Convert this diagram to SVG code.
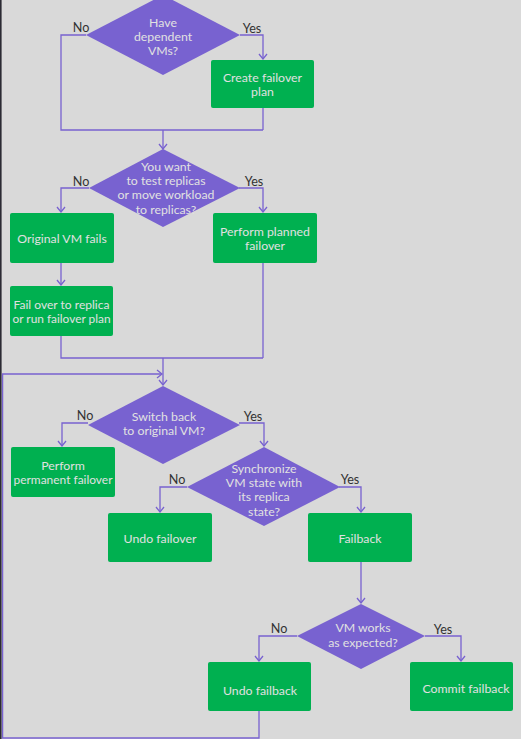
<svg xmlns="http://www.w3.org/2000/svg" width="521" height="739" viewBox="0 0 521 739">
<defs>
<style>
.bg{fill:#d9d9d9}
.dec{fill:#7862d0}
.box{fill:#00b050}
.t{font-family:Lato,"Liberation Sans",sans-serif;font-size:12.3px;fill:#e1e1e1;text-anchor:middle;dominant-baseline:central}
.lab{font-family:Lato,"Liberation Sans",sans-serif;font-size:12.6px;fill:#333333;text-anchor:middle;dominant-baseline:central}
.c{fill:none;stroke:#7862d0;stroke-width:1.3}
.a{marker-end:url(#arr)}
</style>
<marker id="arr" viewBox="0 0 10 10" refX="9" refY="5" markerWidth="10" markerHeight="10" markerUnits="userSpaceOnUse" orient="auto">
<path d="M4,1 L9,5 L4,9" fill="none" stroke="#7862d0" stroke-width="1.3"/>
</marker>
</defs>
<rect class="bg" x="0" y="0" width="521" height="739"/>
<rect x="0" y="0" width="1.6" height="739" fill="#2b2a33"/>
<g id="connectors">
<polyline class="c" points="86,35 61,35 61,130 263,130"/>
<polyline class="c a" points="240,35 263,35 263,59"/>
<polyline class="c" points="263,108 263,130"/>
<polyline class="c a" points="163,130 163,149"/>
<polyline class="c a" points="89,188 61,188 61,212"/>
<polyline class="c a" points="239,188 263,188 263,212"/>
<polyline class="c a" points="61,263 61,285"/>
<polyline class="c" points="61,336 61,358 263,358"/>
<polyline class="c" points="263,263 263,358"/>
<polyline class="c a" points="163,358 163,385"/>
<polyline class="c a" points="259,711 259,738 2.6,738 2.6,374 162,374"/>
<polyline class="c a" points="88,423 62,423 62,446"/>
<polyline class="c a" points="239,423 264,423 264,446"/>
<polyline class="c a" points="187,487 160,487 160,512"/>
<polyline class="c a" points="339,487 361,487 361,512"/>
<polyline class="c a" points="361,562 361,603"/>
<polyline class="c a" points="297,636 259,636 259,661"/>
<polyline class="c a" points="425,636 461,636 461,661"/>
<text class="lab" x="81" y="27">No</text>
<text class="lab" x="252" y="28.5">Yes</text>
<text class="lab" x="81" y="181">No</text>
<text class="lab" x="254" y="181">Yes</text>
<text class="lab" x="85" y="415">No</text>
<text class="lab" x="253" y="416">Yes</text>
<text class="lab" x="177" y="479">No</text>
<text class="lab" x="350" y="479">Yes</text>
<text class="lab" x="279" y="628">No</text>
<text class="lab" x="443" y="629">Yes</text>
</g>
<g id="d1">
<polygon class="dec" points="163,-5 240,35 163,75 86,35"/>
<text class="t" x="163" y="22">Have</text>
<text class="t" x="163" y="36">dependent</text>
<text class="t" x="163" y="50">VMs?</text>
</g>
<g id="b1">
<rect class="box" x="211" y="60" width="103" height="48" rx="2"/>
<text class="t" x="262.5" y="77">Create failover</text>
<text class="t" x="262.5" y="91">plan</text>
</g>
<g id="d2">
<polygon class="dec" points="163,149 240,188 163,227 89,188"/>
<text class="t" x="166" y="166">You want</text>
<text class="t" x="166" y="180">to test replicas</text>
<text class="t" x="166" y="194">or move workload</text>
<text class="t" x="166" y="209">to replicas?</text>
</g>
<g id="b2">
<rect class="box" x="10" y="213" width="104" height="50" rx="2"/>
<text class="t" x="62" y="238">Original VM fails</text>
</g>
<g id="b3">
<rect class="box" x="213" y="213" width="104" height="50" rx="2"/>
<text class="t" x="265" y="231">Perform planned</text>
<text class="t" x="265" y="245">failover</text>
</g>
<g id="b4">
<rect class="box" x="10" y="286" width="103" height="50" rx="2"/>
<text class="t" x="61.5" y="304" textLength="96" lengthAdjust="spacingAndGlyphs">Fail over to replica</text>
<text class="t" x="61.5" y="318" textLength="98" lengthAdjust="spacingAndGlyphs">or run failover plan</text>
</g>
<g id="d3">
<polygon class="dec" points="163,386 240,425 163,464 88,425"/>
<text class="t" x="164" y="416">Switch back</text>
<text class="t" x="164" y="430">to original VM?</text>
</g>
<g id="b5">
<rect class="box" x="11" y="447" width="104" height="50" rx="2"/>
<text class="t" x="63" y="465">Perform</text>
<text class="t" x="63" y="479" textLength="99" lengthAdjust="spacingAndGlyphs">permanent failover</text>
</g>
<g id="d4">
<polygon class="dec" points="264,447 340,487 264,526 187,487"/>
<text class="t" x="264" y="468">Synchronize</text>
<text class="t" x="264" y="482">VM state with</text>
<text class="t" x="264" y="496">its replica</text>
<text class="t" x="264" y="511">state?</text>
</g>
<g id="b6">
<rect class="box" x="108" y="513" width="104" height="49" rx="2"/>
<text class="t" x="160" y="538">Undo failover</text>
</g>
<g id="b7">
<rect class="box" x="308" y="513" width="104" height="49" rx="2"/>
<text class="t" x="360" y="538">Failback</text>
</g>
<g id="d5">
<polygon class="dec" points="361,604 425,636 361,669 297,636"/>
<text class="t" x="363" y="627">VM works</text>
<text class="t" x="363" y="642">as expected?</text>
</g>
<g id="b8">
<rect class="box" x="208" y="662" width="103" height="49" rx="2"/>
<text class="t" x="260" y="690">Undo failback</text>
</g>
<g id="b9">
<rect class="box" x="410" y="662" width="103" height="49" rx="2"/>
<text class="t" x="466" y="688">Commit failback</text>
</g>
</svg>
